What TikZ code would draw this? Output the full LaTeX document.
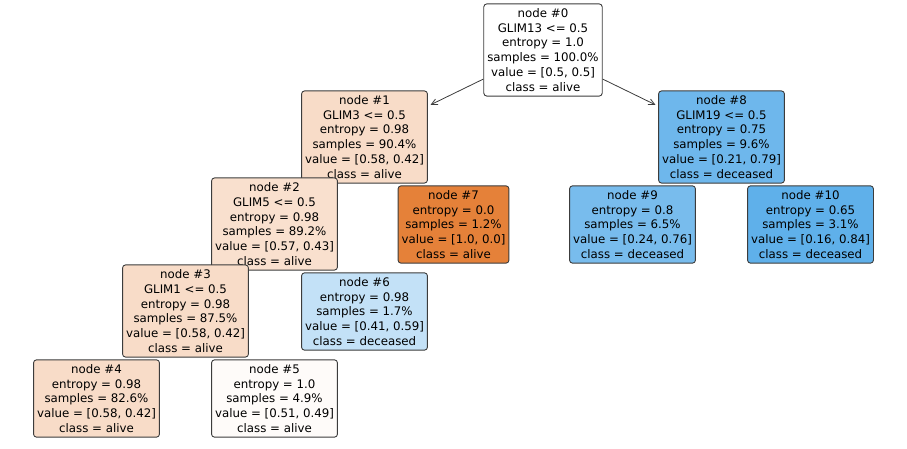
\documentclass[tikz,border=0pt]{standalone}
\usepackage{fontspec}
\setmainfont{DejaVu Sans}
\usepackage{tikz}
\usetikzlibrary{calc, arrows.meta}

\definecolor{alivelight}{RGB}{248,220,200}
\definecolor{alivepale}{RGB}{249,224,206}
\definecolor{alivewhite}{RGB}{254,251,249}
\definecolor{alivefull}{RGB}{229,129,57}
\definecolor{deadlight}{RGB}{195,225,247}
\definecolor{deadmid}{RGB}{110,183,236}
\definecolor{deadnine}{RGB}{120,188,237}
\definecolor{deadten}{RGB}{95,176,234}
\definecolor{boxline}{RGB}{60,60,60}

\begin{document}
\begin{tikzpicture}[x=1pt, y=-1pt]

                % One style for every leaf and split box of the tree
                \tikzset{treebox/.style={draw=boxline, line width=0.9pt, rounded corners=3pt,
                    align=center, inner xsep=3.5pt, inner ysep=4.5pt,
                    font=\fontsize{11.8}{14.8}\selectfont}}

                % Keeps the page at the size of the plot
                \useasboundingbox (0, 0) rectangle (907, 449);

                % Centres of the boxes, in pixels of the plot
                \begin{scope}[shift={(0, 0)}, rotate=0]
                    \coordinate (p0) at (543, 50);
                    \coordinate (p1) at (364.5, 137);
                    \coordinate (p8) at (721.5, 137);
                    \coordinate (p2) at (274.5, 224);
                    \coordinate (p7) at (453.5, 224.5);
                    \coordinate (p9) at (632.5, 224.5);
                    \coordinate (p10) at (810.5, 224.5);
                    \coordinate (p3) at (185.5, 311);
                    \coordinate (p6) at (364.5, 311.5);
                    \coordinate (p4) at (96.5, 398.5);
                    \coordinate (p5) at (274.5, 398.5);
                \end{scope}

                \begin{scope}
                    \node (n0) at (p0) [treebox, fill=white] {node \#0\\GLIM13 <= 0.5\\entropy = 1.0\\samples = 100.0\%\\value = [0.5, 0.5]\\class = alive};
                    \node (n1) at (p1) [treebox, fill=alivelight] {node \#1\\GLIM3 <= 0.5\\entropy = 0.98\\samples = 90.4\%\\value = [0.58, 0.42]\\class = alive};
                    \node (n2) at (p2) [treebox, fill=alivepale] {node \#2\\GLIM5 <= 0.5\\entropy = 0.98\\samples = 89.2\%\\value = [0.57, 0.43]\\class = alive};
                    \node (n3) at (p3) [treebox, fill=alivelight] {node \#3\\GLIM1 <= 0.5\\entropy = 0.98\\samples = 87.5\%\\value = [0.58, 0.42]\\class = alive};
                    \node (n4) at (p4) [treebox, fill=alivelight] {node \#4\\entropy = 0.98\\samples = 82.6\%\\value = [0.58, 0.42]\\class = alive};
                    \node (n5) at (p5) [treebox, fill=alivewhite] {node \#5\\entropy = 1.0\\samples = 4.9\%\\value = [0.51, 0.49]\\class = alive};
                    \node (n6) at (p6) [treebox, fill=deadlight] {node \#6\\entropy = 0.98\\samples = 1.7\%\\value = [0.41, 0.59]\\class = deceased};
                    \node (n7) at (p7) [treebox, fill=alivefull] {node \#7\\entropy = 0.0\\samples = 1.2\%\\value = [1.0, 0.0]\\class = alive};
                    \node (n8) at (p8) [treebox, fill=deadmid] {node \#8\\GLIM19 <= 0.5\\entropy = 0.75\\samples = 9.6\%\\value = [0.21, 0.79]\\class = deceased};
                    \node (n9) at (p9) [treebox, fill=deadnine] {node \#9\\entropy = 0.8\\samples = 6.5\%\\value = [0.24, 0.76]\\class = deceased};
                    \node (n10) at (p10) [treebox, fill=deadten] {node \#10\\entropy = 0.65\\samples = 3.1\%\\value = [0.16, 0.84]\\class = deceased};
                \end{scope}

                % Only the two edges out of the root are not hidden by boxes
                \begin{scope}[line width=0.8pt, draw=boxline]
                    \draw[-{Straight Barb[length=6pt, width=6pt]}, shorten >=3pt] (n0) -- (n1);
                    \draw[-{Straight Barb[length=6pt, width=6pt]}, shorten >=3pt] (n0) -- (n8);
                \end{scope}

                \end{tikzpicture}
\end{document}
